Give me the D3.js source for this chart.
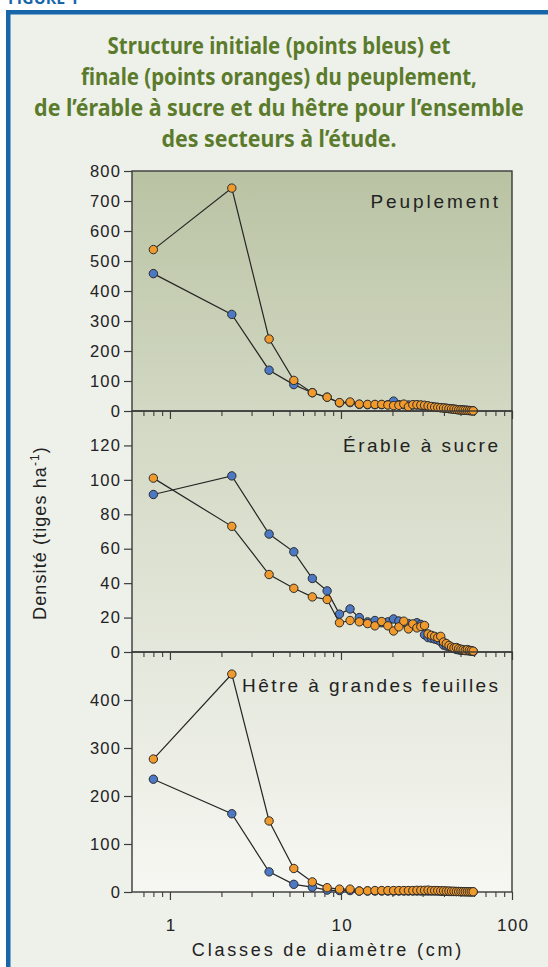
<!DOCTYPE html>
<html><head><meta charset="utf-8">
<script src="https://cdn.jsdelivr.net/npm/d3@7"></script>
<style>
html,body{margin:0;padding:0;background:#fff;}
svg{display:block;}
</style></head>
<body>
<svg id="chart" width="548" height="967"></svg>
<script>
// ---------- DATA ----------
const diameters = [0.8, 2.3, 3.8, 5.3, 6.8, 8.3, 9.8, 11.3, 12.8, 14.3, 15.8, 17.3, 18.8, 20.3, 21.8, 23.3, 24.8, 26.3, 27.8, 29.3,
  30.8, 32.3, 33.8, 35.3, 36.8, 38.3, 39.8, 41.3, 42.8, 44.3, 45.8, 47.3, 48.8, 50.3, 51.8, 53.3, 54.8, 56.3, 57.8, 59.3];

const peuplementInitial = [458, 322, 136, 88, 61, 46, 27, 28, 22, 21, 21, 21, 21, 33, 21, 21, 20, 20, 20, 19,
  18, 16, 14, 13, 12, 11, 10, 9, 8, 7, 6, 5, 4, 3.5, 3, 2.5, 2, 1.5, 1, 0.5];
const peuplementFinal = [538, 743, 240, 102, 61, 46, 28, 30, 23, 22, 22, 22, 20, 18, 19, 23, 14, 21, 21, 20,
  19, 17, 15, 13, 12, 11, 10, 9, 8, 7, 6, 5, 4, 3.5, 3, 2.5, 2, 1.5, 1, 0.5];

const erableInitial = [91.5, 102.3, 68.5, 58.2, 42.7, 35.5, 22, 25, 20, 17.5, 18.3, 17, 17.5, 19.2, 18, 17, 16.5, 16, 17, 16,
  10, 8.4, 8, 7.5, 7, 6, 4, 3.5, 3, 2.5, 2, 1.5, 1.2, 1, 1, 0.8, 0.8, 0.6, 0.5, 0.3];
const erableFinal = [101, 73, 45, 37, 32, 30.5, 17, 18.3, 17.5, 16.5, 15.2, 17.7, 15.2, 12.2, 14.6, 17.9, 13.4, 16.3, 14, 14.8,
  15.4, 10.5, 9.7, 9.1, 8.4, 9.1, 5.8, 4.9, 3.8, 2.9, 2.4, 2.6, 2.0, 1.6, 1.3, 1.0, 1.4, 1.0, 0.8, 0.5];

const hetreInitial = [235, 163, 42, 16, 10, 4, 3, 3, 2, 2, 2, 2, 2, 2, 2, 2, 2, 2, 2, 2,
  2, 2, 2, 2, 2, 1.5, 1.5, 1.5, 1, 1, 1, 1, 1, 0.8, 0.6, 0.5, 0.5, 0.4, 0.3, 0.3];
const hetreFinal = [277, 454, 148, 49, 21, 9, 6, 6, 2, 2.5, 3, 3, 3, 3, 3, 3, 3, 3, 3.5, 3.5,
  3.5, 4, 3, 3, 3, 2.5, 2.5, 2, 2, 1.5, 1.5, 1, 1, 1, 0.8, 0.7, 0.6, 0.5, 0.5, 0.5];

const panelLabels = ["Peuplement", "Érable à sucre", "Hêtre à grandes feuilles"];
const panelMax = [800, 140, 500];
const yTicksPeuplement = [0, 100, 200, 300, 400, 500, 600, 700, 800];
const yTicksErable = [0, 20, 40, 60, 80, 100, 120];
const yTicksHetre = [0, 100, 200, 300, 400];
const xMajorTicks = [1, 10, 100];
const xMinorTicks = [0.7, 0.8, 0.9, 2, 3, 4, 5, 6, 7, 8, 9, 20, 30, 40, 50, 60, 70, 80, 90];
const titleLines = ["Structure initiale (points bleus) et",
  "finale (points oranges) du peuplement,",
  "de l’érable à sucre et du hêtre pour l’ensemble",
  "des secteurs à l’étude."];

// ---------- LAYOUT ----------
const svg = d3.select("#chart");
const W = 548, H = 967;
const plotL = 132, plotR = 512;
const bounds = [171, 411, 652, 892];
const BLUE = "#4d79c4", ORANGE = "#f0992c";
const FONT = "'Liberation Sans', Arial, sans-serif";

const panels = [
  {label: panelLabels[0], max: panelMax[0], ticks: yTicksPeuplement, init: peuplementInitial, fin: peuplementFinal, labelY: 208, ls: 2.9},
  {label: panelLabels[1], max: panelMax[1], ticks: yTicksErable, init: erableInitial, fin: erableFinal, labelY: 452, ls: 2.5},
  {label: panelLabels[2], max: panelMax[2], ticks: yTicksHetre, init: hetreInitial, fin: hetreFinal, labelY: 692, ls: 2.4}
];

svg.append("rect").attr("x", 0).attr("y", 0).attr("width", W).attr("height", H).attr("fill", "#ffffff");

svg.append("text").attr("x", 8).attr("y", 3.5)
  .attr("font-family", "'Open Sans', sans-serif").attr("font-weight", 700).attr("font-size", 16)
  .attr("fill", "#1766aa").text("FIGURE 1");

svg.append("rect").attr("x", 8.25).attr("y", 12.25).attr("width", 600).attr("height", 1000)
  .attr("fill", "#eef0ea").attr("stroke", "#1766aa").attr("stroke-width", 4.5);

// Title (horizontally condensed to match widths)
const titleBase = [54, 85, 116, 147];
const titleWidths = [343, 396, 490, 235];
titleLines.forEach((t, i) => {
  const txt = svg.append("text")
    .attr("text-anchor", "middle")
    .attr("font-family", "'Noto Sans', 'Open Sans', sans-serif").attr("font-weight", 700).attr("font-size", 24)
    .attr("fill", "#5b7b2c")
    .text(t);
  const natural = txt.node().getComputedTextLength();
  const sx = titleWidths[i] / natural;
  txt.attr("transform", `translate(279,${titleBase[i]}) scale(${sx},1)`);
});

// Gradient
const defs = svg.append("defs");
const grad = defs.append("linearGradient").attr("id", "bg").attr("gradientUnits", "userSpaceOnUse")
  .attr("x1", 0).attr("y1", bounds[0]).attr("x2", 0).attr("y2", bounds[3]);
[[0, "#b9c3a3"], [0.333, "#d2d8c3"], [0.667, "#e4e7db"], [1, "#f6f7f2"]].forEach(s =>
  grad.append("stop").attr("offset", s[0]).attr("stop-color", s[1]));

svg.append("rect").attr("x", plotL).attr("y", bounds[0]).attr("width", plotR - plotL)
  .attr("height", bounds[3] - bounds[0]).attr("fill", "url(#bg)");

const x = d3.scaleLog().domain([0.6, 100]).range([plotL, plotR]);

const LS = 1.3;
panels.forEach((p, i) => {
  const top = bounds[i], bottom = bounds[i + 1];
  const y = d3.scaleLinear().domain([0, p.max]).range([bottom, top]);
  const g = svg.append("g");

  // y axis
  const ya = g.append("g").attr("transform", `translate(${plotL},0)`)
    .call(d3.axisLeft(y).tickValues(p.ticks).tickSize(8).tickPadding(4).tickFormat(d3.format("d")));
  ya.select(".domain").remove();
  ya.selectAll(".tick line").attr("stroke", "#3c3c3c").attr("stroke-width", 1.2);
  ya.selectAll(".tick text").attr("font-family", FONT).attr("font-size", 16.5).attr("fill", "#222")
    .attr("letter-spacing", LS).attr("dx", LS);

  // x axis ticks (pointing down)
  const xa1 = g.append("g").attr("transform", `translate(0,${bottom})`)
    .call(d3.axisBottom(x).tickValues(xMinorTicks).tickSize(5).tickFormat(""));
  xa1.select(".domain").remove();
  xa1.selectAll(".tick line").attr("stroke", "#3c3c3c").attr("stroke-width", 1.1);
  const xa2 = g.append("g").attr("transform", `translate(0,${bottom})`)
    .call(d3.axisBottom(x).tickValues(xMajorTicks).tickSize(8).tickPadding(19)
      .tickFormat(i === 2 ? d3.format("d") : ""));
  xa2.select(".domain").remove();
  xa2.selectAll(".tick line").attr("stroke", "#3c3c3c").attr("stroke-width", 1.2);
  xa2.selectAll(".tick text").attr("font-family", FONT).attr("font-size", 17).attr("fill", "#222")
    .attr("letter-spacing", LS).attr("dx", LS / 2);

  // frame
  g.append("rect").attr("x", plotL).attr("y", top).attr("width", plotR - plotL).attr("height", bottom - top)
    .attr("fill", "none").attr("stroke", "#3a3a3a").attr("stroke-width", 1.4);

  // label
  g.append("text").attr("x", 498 + p.ls).attr("y", p.labelY).attr("text-anchor", "end")
    .attr("font-family", FONT).attr("font-size", 19).attr("letter-spacing", p.ls).attr("fill", "#222")
    .text(p.label);

  // series
  const line = d3.line().x((d, k) => x(diameters[k])).y(d => y(d));
  [[p.init, BLUE], [p.fin, ORANGE]].forEach(([vals, col]) => {
    g.append("path").datum(vals).attr("d", line).attr("fill", "none")
      .attr("stroke", "#262626").attr("stroke-width", 1.2);
    g.selectAll(null).data(vals).enter().append("circle")
      .attr("cx", (d, k) => x(diameters[k])).attr("cy", d => y(d)).attr("r", 4.2)
      .attr("fill", col).attr("stroke", "#2b2b2b").attr("stroke-width", 1);
  });
});

// axis titles
svg.append("text").attr("x", 328).attr("y", 956).attr("text-anchor", "middle")
  .attr("font-family", FONT).attr("font-size", 18).attr("letter-spacing", 2.8).attr("fill", "#222")
  .text("Classes de diamètre (cm)");

const yt = svg.append("text").attr("transform", "translate(46,533) rotate(-90)").attr("text-anchor", "middle")
  .attr("font-family", FONT).attr("font-size", 18).attr("letter-spacing", 1.1).attr("fill", "#222");
yt.append("tspan").text("Densité (tiges ha");
yt.append("tspan").attr("font-size", 12).attr("dy", -7).text("-1");
yt.append("tspan").attr("dy", 7).text(")");
</script>
</body></html>
